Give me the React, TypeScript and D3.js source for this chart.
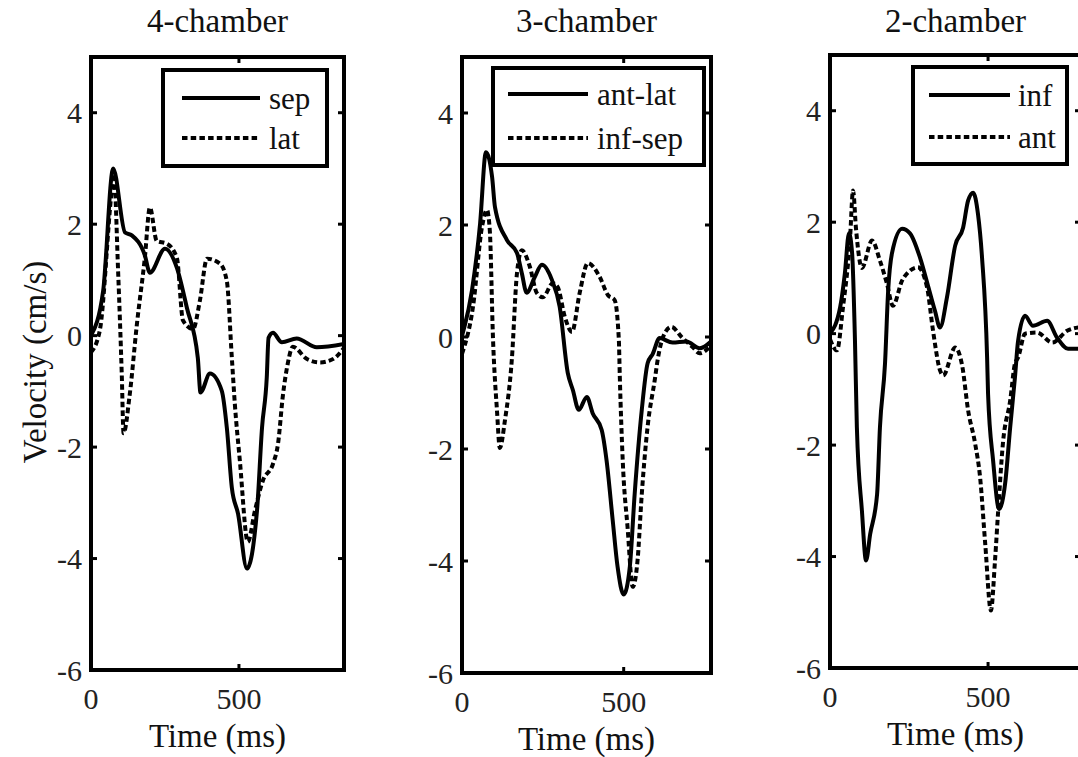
import React from "react";
import * as d3 from "d3";

// ---------- DATA (time in ms, velocity in cm/s) ----------
const panelTitles = ["4-chamber", "3-chamber", "2-chamber"];
const legendLabels = [["sep", "lat"], ["ant-lat", "inf-sep"], ["inf", "ant"]];
const xMaxes = [855, 770, 794];
const yTicks = [-6, -4, -2, 0, 2, 4];
const xTicks = [0, 500];

const sep4: [number, number][] = [
  [0, 0], [41, 0.8], [75, 3.0], [115, 1.85], [138, 1.8], [182, 1.44], [199, 1.13],
  [250, 1.56], [290, 1.22], [324, 0.5], [361, -0.4], [370, -1.02], [402, -0.68],
  [442, -0.99], [459, -1.65], [476, -2.73], [497, -3.2], [527, -4.18], [561, -3.14],
  [578, -1.65], [594, -0.75], [600, -0.04], [615, 0.05], [645, -0.12], [695, -0.05],
  [763, -0.21], [855, -0.15],
];
const lat4: [number, number][] = [
  [0, -0.3], [30, 0.1], [70, 2.6], [77, 2.9], [92, 1.1], [104, -0.7], [110, -1.75],
  [131, -1.05], [155, 0.2], [182, 1.4], [199, 2.3], [222, 1.7], [256, 1.65],
  [290, 1.4], [311, 0.27], [345, 0.12], [368, 0.63], [392, 1.38], [436, 1.29],
  [459, 0.98], [476, -0.4], [486, -1.22], [503, -2.24], [530, -3.7], [554, -3.14],
  [581, -2.6], [615, -2.3], [632, -1.94], [649, -1.05], [665, -0.5], [682, -0.2],
  [730, -0.42], [774, -0.48], [818, -0.42], [855, -0.22],
];
const antLat3: [number, number][] = [
  [0, 0.02], [31, 0.84], [56, 2.03], [74, 3.3], [93, 2.86], [102, 2.32], [139, 1.73],
  [170, 1.5], [185, 1.14], [200, 0.79], [225, 1.07], [247, 1.29], [278, 1.02],
  [302, 0.54], [327, -0.64], [343, -0.95], [361, -1.3], [386, -1.07], [404, -1.36],
  [432, -1.66], [447, -2.2], [466, -3.27], [481, -4.1], [500, -4.6], [519, -4.1],
  [534, -2.8], [556, -1.3], [574, -0.47], [590, -0.3], [611, -0.02], [651, -0.1],
  [694, -0.08], [735, -0.2], [770, -0.08],
];
const infSep3: [number, number][] = [
  [0, -0.3], [34, 0.54], [62, 1.97], [77, 2.27], [86, 1.9], [96, -0.05], [108, -1.3],
  [117, -1.98], [133, -1.48], [154, -0.41], [170, 1.14], [185, 1.55], [210, 1.25],
  [231, 0.79], [250, 0.71], [281, 0.96], [296, 0.89], [318, 0.36], [340, 0.09],
  [364, 0.79], [389, 1.32], [426, 1.07], [451, 0.75], [472, 0.66], [485, -0.05],
  [488, -0.71], [497, -2.2], [512, -3.4], [528, -4.46], [543, -3.98], [556, -2.8],
  [574, -1.6], [596, -0.77], [605, -0.41], [627, 0.07], [648, 0.18], [679, 0.0],
  [713, -0.18], [735, -0.29], [770, -0.15],
];
const inf2: [number, number][] = [
  [0, 0.0], [32, 0.47], [47, 1.08], [60, 1.8], [70, 1.44], [79, -0.13], [85, -1.68],
  [101, -3.18], [114, -4.07], [127, -3.6], [149, -2.88], [158, -1.68], [174, -0.54],
  [184, 0.77], [196, 1.44], [228, 1.88], [253, 1.8], [285, 1.36], [310, 0.86],
  [332, 0.41], [348, 0.11], [370, 0.65], [396, 1.58], [421, 1.9], [437, 2.39],
  [453, 2.53], [468, 2.15], [481, 1.36], [497, -0.43], [500, -1.08], [516, -2.28],
  [535, -3.15], [554, -2.69], [570, -1.68], [585, -0.79], [595, -0.13], [617, 0.32],
  [642, 0.14], [687, 0.23], [718, -0.07], [753, -0.27], [794, -0.27],
];
const ant2: [number, number][] = [
  [0, -0.1], [22, -0.3], [41, 0.47], [63, 1.67], [73, 2.57], [82, 1.9], [101, 1.18],
  [133, 1.67], [158, 1.31], [180, 0.9], [199, 0.5], [228, 0.95], [253, 1.13],
  [278, 1.19], [307, 0.83], [326, 0.05], [348, -0.66], [358, -0.75], [396, -0.25],
  [418, -0.57], [437, -1.38], [459, -1.97], [475, -2.59], [491, -3.77], [509, -4.97],
  [522, -4.07], [532, -3.18], [547, -1.97], [570, -1.2], [585, -0.54], [595, -0.43],
  [617, 0.0], [655, 0.02], [703, -0.16], [750, 0.05], [794, 0.12],
];
const seriesByPanel = [[sep4, lat4], [antLat3, infSep3], [inf2, ant2]];

// ---------- LAYOUT ----------
const boxes = [
  { left: 91, right: 344, top: 57, bottom: 670, leg: { x0: 163, x1: 327, y0: 70, y1: 166, l0: 182, l1: 260, tx: 269, r: [98, 138] } },
  { left: 462, right: 711, top: 57, bottom: 673, leg: { x0: 493, x1: 704, y0: 68, y1: 165, l0: 508, l1: 588, tx: 597, r: [94, 138] } },
  { left: 830, right: 1081, top: 55, bottom: 668, leg: { x0: 913, x1: 1067, y0: 67, y1: 164, l0: 929, l1: 1010, tx: 1018, r: [95, 137] } },
];

const FONT = "'Liberation Serif', serif";
const DASH = "5.5,3.2";

function Panel({ i }: { i: number }) {
  const b = boxes[i];
  const x = d3.scaleLinear().domain([0, xMaxes[i]]).range([b.left, b.right]);
  const y = d3.scaleLinear().domain([-6, 5]).range([b.bottom, b.top]);
  const line = d3
    .line<[number, number]>()
    .x((d) => x(d[0]))
    .y((d) => y(d[1]))
    .curve(d3.curveMonotoneX);
  const clipId = `clip${i}`;
  const tl = 6;
  const L = b.leg;
  return (
    <g>
      <defs>
        <clipPath id={clipId}>
          <rect x={b.left} y={b.top} width={b.right - b.left} height={b.bottom - b.top} />
        </clipPath>
      </defs>
      <g clipPath={`url(#${clipId})`}>
        {seriesByPanel[i].map((s, k) => (
          <path
            key={k}
            d={line(s) || ""}
            fill="none"
            stroke="#000"
            strokeWidth={4}
            strokeLinejoin="round"
            strokeDasharray={k === 1 ? DASH : undefined}
          />
        ))}
      </g>
      {yTicks.map((t) => (
        <g key={"y" + t}>
          <line x1={b.left} x2={b.left + tl} y1={y(t)} y2={y(t)} stroke="#000" strokeWidth={3} />
          <line x1={b.right} x2={b.right - tl} y1={y(t)} y2={y(t)} stroke="#000" strokeWidth={3} />
          <text x={b.left - 9} y={y(t)} dy="0.35em" textAnchor="end" fontSize={30} fontFamily={FONT} fill="#222">
            {t}
          </text>
        </g>
      ))}
      {xTicks.map((t) => (
        <g key={"x" + t}>
          <line x1={x(t)} x2={x(t)} y1={b.bottom} y2={b.bottom - tl} stroke="#000" strokeWidth={3} />
          <line x1={x(t)} x2={x(t)} y1={b.top} y2={b.top + tl} stroke="#000" strokeWidth={3} />
          <text x={x(t)} y={b.bottom + 39} textAnchor="middle" fontSize={30} fontFamily={FONT} fill="#222">
            {t}
          </text>
        </g>
      ))}
      <rect
        x={b.left}
        y={b.top}
        width={b.right - b.left}
        height={b.bottom - b.top}
        fill="none"
        stroke="#000"
        strokeWidth={4}
      />
      <text x={(b.left + b.right) / 2} y={32} textAnchor="middle" fontSize={33} fontFamily={FONT} fill="#111">
        {panelTitles[i]}
      </text>
      <text x={(b.left + b.right) / 2} y={b.bottom + 77} textAnchor="middle" fontSize={33} fontFamily={FONT} fill="#111">
        Time (ms)
      </text>
      <rect x={L.x0} y={L.y0} width={L.x1 - L.x0} height={L.y1 - L.y0} fill="#fff" stroke="#000" strokeWidth={4} />
      {legendLabels[i].map((lab, k) => (
        <g key={lab}>
          <line
            x1={L.l0}
            x2={L.l1}
            y1={L.r[k]}
            y2={L.r[k]}
            stroke="#000"
            strokeWidth={4}
            strokeDasharray={k === 1 ? DASH : undefined}
          />
          <text x={L.tx} y={L.r[k] + 11} fontSize={31} fontFamily={FONT} fill="#111">
            {lab}
          </text>
        </g>
      ))}
    </g>
  );
}

export default function App() {
  return (
    <svg
      width={1078}
      height={757}
      fontFamily={FONT}
      style={{ position: "absolute", left: 0, top: 0, background: "#fff" }}
    >
      <rect x={0} y={0} width={1078} height={757} fill="#fff" />
      {[0, 1, 2].map((i) => (
        <Panel key={i} i={i} />
      ))}
      <text
        transform={`translate(46, 362) rotate(-90)`}
        textAnchor="middle"
        fontSize={33}
        fontFamily={FONT}
        fill="#111"
      >
        Velocity (cm/s)
      </text>
    </svg>
  );
}
